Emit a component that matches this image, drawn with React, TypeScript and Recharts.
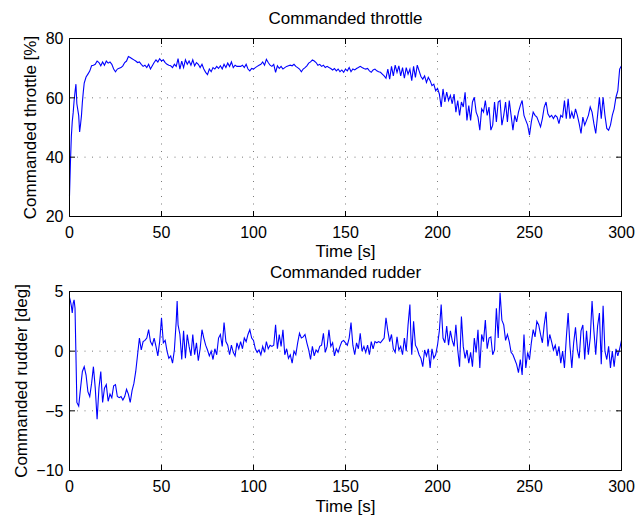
import React from "react";
import { LineChart, Line, XAxis, YAxis, CartesianGrid } from "recharts";

// Commanded throttle [%] vs time [s]
const throttleSamples: [number, number][] = [
  [0, 27], [0.5, 38], [1, 47], [1.5, 52], [2, 55], [2.5, 59], [3, 62], [3.5, 64.6], [4, 58], [4.5, 56],
  [5, 54], [5.5, 48.5], [6, 51], [6.5, 54], [7, 58.6], [7.5, 62], [8, 65], [9, 67], [10, 68], [11, 69],
  [12, 70.8], [13, 71], [14, 71.3], [15, 72.4], [16, 71.9], [17, 70.8], [18, 72.1], [19, 71], [20, 72.4],
  [21, 71.7], [22, 72.1], [23, 71.3], [24, 69.7], [25, 68.8], [26, 69.7], [27, 70], [28, 70.2], [29, 70.8],
  [30, 71.9], [31, 72.4], [32, 73.9], [33, 73.6], [34, 73.2], [35, 72.8], [36, 72.4], [37, 71.9], [38, 72.1],
  [39, 71.3], [40, 70.6], [41, 71], [42, 70.2], [43, 71.3], [44, 69.7], [45, 70.8], [46, 71.9], [47, 72.8],
  [48, 72.1], [49, 73.2], [50, 72.4], [51, 72.8], [52, 71.9], [53, 71.3], [54, 71], [55, 70.8], [56, 70.2],
  [57, 71.3], [58, 70.6], [59, 73.2], [60, 69.7], [61, 72.4], [62, 70.2], [63, 72.8], [64, 71.3], [65, 72.4],
  [66, 71], [67, 72.8], [68, 70.8], [69, 71.9], [70, 71.3], [71, 70.2], [72, 71.3], [73, 69.7], [74, 68.6],
  [75, 67.8], [76, 69.7], [77, 68.8], [78, 70.2], [79, 69.7], [80, 70.6], [81, 69.9], [82, 70.8], [83, 69.7],
  [84, 71.3], [85, 70.2], [86, 71.7], [87, 70.6], [88, 72.1], [89, 70.2], [90, 71], [91, 70.6], [92, 70.6],
  [93, 70.6], [94, 71], [95, 70.2], [96, 71.3], [97, 69.7], [98, 69.1], [99, 69.9], [100, 69.7], [101, 70.2],
  [102, 70.6], [103, 71], [104, 71.3], [105, 72.1], [106, 71], [107, 73], [108, 71.9], [109, 71], [110, 70.6],
  [111, 71.3], [112, 68.6], [113, 70.8], [114, 69.9], [115, 70.6], [116, 69.7], [117, 70.2], [118, 70.6],
  [119, 70.8], [120, 71], [121, 70.8], [122, 71.3], [123, 70.6], [124, 70.2], [125, 69.7], [126, 68.8],
  [127, 69.7], [128, 70.2], [129, 70.8], [130, 71.7], [131, 72.1], [132, 72.8], [133, 72.4], [134, 71.9],
  [135, 71], [136, 71.3], [137, 70.6], [138, 71], [139, 70.2], [140, 70.6], [141, 70.2], [142, 69.9],
  [143, 69.4], [144, 69.9], [145, 69.1], [146, 69.7], [147, 68.8], [148, 69.4], [149, 68.6], [150, 69.7],
  [151, 69.1], [152, 70.2], [153, 68.8], [154, 69.7], [155, 69.4], [156, 69.9], [157, 70.2], [158, 70.6],
  [159, 70.2], [160, 69.9], [161, 69.7], [162, 69.9], [163, 69.1], [164, 68.6], [165, 69.4], [166, 69.7],
  [167, 69.1], [168, 68.8], [169, 68.6], [170, 68], [171, 67.4], [172, 66.6], [173, 69.7], [174, 66.3],
  [175, 70.6], [176, 67.4], [177, 71], [178, 68.6], [179, 70.8], [180, 67.4], [181, 70.2], [182, 66.6],
  [183, 70.2], [184, 68], [185, 69.7], [186, 65.8], [187, 70.6], [188, 66.9], [189, 71], [190, 69.1],
  [191, 67.2], [192, 66.3], [193, 67.4], [194, 65.2], [195, 66.9], [196, 65.8], [197, 64.1], [198, 64.6],
  [199, 62.4], [200, 63.2], [201, 61.3], [202, 56.9], [203, 63], [204, 58.6], [205, 61.9], [206, 59.1],
  [207, 60.8], [208, 58], [209, 61.3], [210, 55.2], [211, 59.1], [212, 54.1], [213, 58.6], [214, 56.9],
  [215, 61.9], [216, 52.4], [217, 57.4], [218, 52.4], [219, 58.6], [220, 60.2], [221, 55.2], [222, 53.5],
  [223, 49.1], [224, 56.3], [225, 55.2], [226, 59.1], [227, 54.1], [228, 56.9], [229, 49.1], [230, 50.8],
  [231, 58.6], [232, 51.9], [233, 58.6], [234, 59.1], [235, 50.8], [236, 54.1], [237, 58.6], [238, 51.9],
  [239, 59.1], [240, 54.1], [241, 49.1], [242, 54.1], [243, 51.9], [244, 55.2], [245, 57.4], [246, 59.1],
  [247, 54.1], [248, 52.4], [249, 50.8], [250, 47.4], [251, 51.9], [252, 55.2], [253, 54.1], [254, 53.5],
  [255, 51.9], [256, 50.2], [257, 53], [258, 56.9], [259, 58.6], [260, 54.6], [261, 53.5], [262, 54.1],
  [263, 53], [264, 54.1], [265, 53.5], [266, 51.3], [267, 54.1], [268, 53.5], [269, 59.1], [270, 53],
  [271, 59.7], [272, 53], [273, 55.2], [274, 53], [275, 56.3], [276, 54.1], [277, 51.3], [278, 48],
  [279, 53.5], [280, 50.8], [281, 52.4], [282, 54.1], [283, 56.9], [284, 55.2], [285, 51.3], [286, 48],
  [287, 54.1], [288, 60.2], [289, 53], [290, 60.2], [291, 54.1], [292, 49.7], [293, 49.1], [294, 50.8],
  [295, 54.1], [296, 56.3], [297, 60.2], [298, 62.4], [299, 69.7], [300, 70.8],
];

// Commanded rudder [deg] vs time [s]
const rudderSamples: [number, number][] = [
  [0, 4.5], [0.5, 4.2], [1, 3.8], [1.5, 3.2], [2, 4.0], [2.5, 4.3], [3, 3.6], [3.5, -0.3], [4, -4.3],
  [5, -4.6], [6, -3.1], [7, -1.7], [8, -1.3], [9, -2.0], [10, -3.4], [11, -3.8], [12, -2.7], [13, -1.3],
  [14, -3.1], [15, -5.7], [16, -3.1], [17, -1.7], [18, -4.3], [19, -3.1], [20, -2.8], [21, -4.2], [22, -3.6],
  [23, -3.9], [24, -2.9], [25, -2.8], [26, -3.8], [27, -3.9], [28, -3.8], [29, -4.1], [30, -3.8], [31, -3.2],
  [32, -3.6], [33, -4.3], [34, -3.3], [35, -2.7], [36, -1.7], [37, -0.3], [38, 1.1], [39, 0.1], [40, 0.8],
  [41, 0.9], [42, 1.1], [43, 1.8], [44, 0.8], [45, 0.5], [46, 1.1], [47, 0.4], [48, -0.4], [49, 0.8],
  [50, 2.8], [51, 0.7], [52, 0.9], [53, 0], [54, -0.6], [55, -0.4], [56, -1.0], [57, 0.1], [58, 2.5],
  [58.5, 4.2], [59, 2.2], [60, 1.4], [61, -0.7], [62, 1.7], [63, -0.6], [64, 1.4], [65, 0.4], [66, -0.4],
  [67, 1.4], [68, -0.3], [69, 0.7], [70, -0.8], [71, 0.2], [72, 1.8], [73, 1.1], [74, 0.5], [75, 0.1],
  [76, -0.4], [77, 0], [78, -0.7], [79, 0.2], [80, -0.3], [81, 1.1], [82, 1.4], [83, 0.4], [84, 2.4],
  [85, 0.8], [86, 0.5], [87, -0.3], [88, 0.5], [89, -0.1], [90, -0.4], [91, 0.7], [92, 0.2], [93, 0.8],
  [94, 0.2], [95, 1.1], [96, 0.8], [97, 1.4], [98, 1.8], [99, 1.1], [100, 0.9], [101, 0.2], [102, -0.1],
  [103, 0.1], [104, -0.3], [105, 0.4], [106, -0.1], [107, 0.8], [108, 0.2], [109, 0.5], [110, 0.4],
  [111, 0.5], [112, 2.2], [113, 0.2], [114, 1.4], [115, 0.4], [116, 1.8], [117, -0.3], [118, 0.2],
  [119, -0.6], [120, -0.3], [121, -1.0], [122, 0], [123, -0.3], [124, 0.7], [125, 1.5], [126, 1.1],
  [127, 1.2], [128, 1.4], [129, 0.7], [130, 0.1], [131, -0.7], [132, 0.4], [133, -0.4], [134, 0.1],
  [135, -0.1], [136, 0.4], [137, 0.5], [138, 1.5], [139, -0.1], [140, 0.4], [141, 1.8], [142, 0.4],
  [143, 0.7], [144, -0.4], [145, 0.2], [146, -0.1], [147, 0.4], [148, 0.8], [149, 0.9], [150, 0.7],
  [151, 0.5], [152, 1.1], [153, 2.4], [154, 0.5], [155, -0.3], [156, 0.7], [157, 0.2], [158, 1.5],
  [159, 0], [160, 0.4], [161, -0.1], [162, 0.5], [163, -0.3], [164, 0.8], [165, 0.2], [166, 0.8],
  [167, 0.7], [168, 0.8], [169, 0.7], [170, 0.9], [171, 1.1], [172, 2.8], [173, 1.7], [174, 0.8],
  [175, 1.4], [176, 0.2], [177, -0.1], [178, 1.2], [179, 0.1], [180, 0.4], [181, -0.3], [182, 1.1],
  [183, 0], [184, 2.2], [185, 3.9], [185.5, 1.4], [186, -0.3], [187, 2.5], [188, 0.5], [189, 0.2],
  [190, -0.3], [191, -0.6], [192, -1.3], [193, 0.1], [194, -0.4], [195, 0.2], [196, -1.4], [197, 0.2],
  [198, -0.6], [199, -0.3], [200, 0.5], [201, 1.7], [202, 3.9], [203, 1.1], [204, 0.7], [205, 2.1],
  [206, 0.5], [207, 1.7], [208, 0.9], [209, 0.4], [210, 2.2], [211, 0.1], [212, -1.3], [213, 2.9],
  [214, 0.4], [215, -0.6], [216, 0.1], [217, -1.0], [218, -0.1], [219, -1.3], [220, 1.1], [221, -0.1],
  [222, 1.8], [223, -1.4], [224, 1.4], [225, 0.8], [226, 2.6], [227, 0.2], [228, 1.1], [229, 1.2],
  [230, -0.3], [231, 0.1], [232, 3.6], [233, 1.1], [234, 4.9], [235, 2.6], [236, 2.2], [237, 0.9],
  [238, 1.4], [239, 0.8], [240, -0.1], [241, -0.3], [242, -0.7], [243, -1.1], [244, -1.8], [245, -0.7],
  [246, -2.0], [247, 1.4], [248, -1.4], [249, -0.1], [250, -0.7], [251, 0.7], [252, 1.8], [253, 1.2],
  [254, 2.5], [255, 2.2], [256, 1.4], [257, 0.7], [258, 2.2], [259, 3.3], [260, 0.4], [261, 1.4],
  [262, 0.8], [263, 0.1], [264, 0.5], [265, -0.4], [266, 0.4], [267, -1.0], [268, 0], [269, -1.4],
  [270, 1.1], [271, 3.2], [272, 0.4], [273, -1.4], [274, 0.7], [275, 2.0], [276, 0.1], [277, -0.6],
  [278, 1.7], [279, 2.2], [280, -0.7], [281, 1.7], [282, -0.3], [283, 1.1], [284, 4.2], [285, 1.7],
  [286, -0.3], [287, 2.1], [288, 3.2], [289, -1.1], [290, 3.8], [291, 0], [292, -0.7], [293, 0.4],
  [294, -1.4], [295, 0], [296, -1.3], [297, 0.2], [298, -0.4], [299, 0.2], [300, 0.9],
];

const timeTicks = [0, 50, 100, 150, 200, 250, 300];
const throttleTicks = [20, 40, 60, 80];
const rudderTicks = [-10, -5, 0, 5];
const timeDomain: [number, number] = [0, 300];
const throttleDomain: [number, number] = [20, 80];
const rudderDomain: [number, number] = [-10, 5];

const titles = ["Commanded throttle", "Commanded rudder"];
const yLabels = ["Commanded throttle [%]", "Commanded rudder [deg]"];
const xLabel = "Time [s]";

const FONT = '"Liberation Sans", Arial, Helvetica, sans-serif';
const TICK_LEN = 5.5;
const CHART_W = 639;
const CHART_H = 260;
const Y_AXIS_W = 69.5;
const RIGHT_M = 17.5;
const PLOT_W = CHART_W - Y_AXIS_W - RIGHT_M;
const AXIS_LINE = { stroke: "#000", strokeWidth: 1 };

const fmt = (v: number) => (v < 0 ? "\u2212" + Math.abs(v) : String(v));

// Bottom-axis tick: label, inward tick at bottom and top, and the top edge of the box
const makeBottomTick = (plotH: number) => (props: any) => {
  const { x, y, payload, index } = props;
  const top = y - plotH;
  return (
    <g>
      {index === 0 ? <line x1={x} y1={top} x2={x + PLOT_W} y2={top} stroke="#000" strokeWidth={1} /> : null}
      <line x1={x} y1={y} x2={x} y2={y - TICK_LEN} stroke="#000" strokeWidth={1} />
      <line x1={x} y1={top} x2={x} y2={top + TICK_LEN} stroke="#000" strokeWidth={1} />
      <text x={x} y={y + 21.5} textAnchor="middle" fontSize={16} fontFamily={FONT} fill="#000">
        {fmt(payload.value)}
      </text>
    </g>
  );
};

// Left-axis tick: label, inward tick at left and right, and the right edge of the box
const makeLeftTick = (plotH: number) => (props: any) => {
  const { x, y, payload, index } = props;
  const right = x + PLOT_W;
  return (
    <g>
      {index === 0 ? <line x1={right} y1={y} x2={right} y2={y - plotH} stroke="#000" strokeWidth={1} /> : null}
      <line x1={x} y1={y} x2={x + TICK_LEN} y2={y} stroke="#000" strokeWidth={1} />
      <line x1={right} y1={y} x2={right - TICK_LEN} y2={y} stroke="#000" strokeWidth={1} />
      <text x={x - 6} y={y + 5.8} textAnchor="end" fontSize={16} fontFamily={FONT} fill="#000">
        {fmt(payload.value)}
      </text>
    </g>
  );
};

const makeYLabel = (text: string, baseX: number) => (props: any) => {
  const vb = props.viewBox || {};
  const cx = (vb.x || 0) + baseX;
  const cy = (vb.y || 0) + (vb.height || 0) / 2;
  return (
    <text x={cx} y={cy} transform={`rotate(-90 ${cx} ${cy})`} textAnchor="middle" fontSize={17} fontFamily={FONT} fill="#000">
      {text}
    </text>
  );
};

const THROTTLE_TOP = 38.5;
const THROTTLE_XH = 43.5;
const RUDDER_TOP = 35.5;
const RUDDER_XH = 45.5;
const throttlePlotH = CHART_H - THROTTLE_TOP - THROTTLE_XH;
const rudderPlotH = CHART_H - RUDDER_TOP - RUDDER_XH;

const throttleBottomTick = makeBottomTick(throttlePlotH);
const throttleLeftTick = makeLeftTick(throttlePlotH);
const rudderBottomTick = makeBottomTick(rudderPlotH);
const rudderLeftTick = makeLeftTick(rudderPlotH);

const throttleYLabel = { content: makeYLabel(yLabels[0], 35.5) };
const rudderYLabel = { content: makeYLabel(yLabels[1], 27) };
const throttleXLabel = { value: xLabel, position: "insideBottom", offset: 3, fontSize: 17, fontFamily: FONT, fill: "#000" };
const rudderXLabel = { value: xLabel, position: "insideBottom", offset: 4.5, fontSize: 17, fontFamily: FONT, fill: "#000" };

const throttleData = throttleSamples.map(([t, v]) => ({ t, v }));
const rudderData = rudderSamples.map(([t, v]) => ({ t, v }));

const Title = ({ text, baseline }: { text: string; baseline: number }) => (
  <div
    style={{
      position: "absolute",
      left: Y_AXIS_W,
      width: PLOT_W,
      top: baseline - 16,
      textAlign: "center",
      fontFamily: FONT,
      fontSize: 17,
      lineHeight: "20px",
      color: "#000",
      whiteSpace: "nowrap",
    }}
  >
    {text}
  </div>
);

const renderPanel = (
  data: { t: number; v: number }[],
  domain: [number, number],
  yTicks: number[],
  marginTop: number,
  xAxisHeight: number,
  bottomTick: any,
  leftTick: any,
  xLabelObj: any,
  yLabelObj: any
) => (
  <LineChart width={CHART_W} height={CHART_H} data={data} margin={{ top: marginTop, right: RIGHT_M, bottom: 0, left: 0 }}>
    <CartesianGrid stroke="#7a7a7a" strokeDasharray="1 6.5" />
    <Line dataKey="v" type="linear" stroke="#0000ff" strokeWidth={1.1} dot={false} isAnimationActive={false} />
    <XAxis
      dataKey="t"
      type="number"
      domain={timeDomain}
      ticks={timeTicks}
      interval={0}
      height={xAxisHeight}
      tickLine={false}
      tickSize={0}
      tickMargin={0}
      tick={bottomTick}
      axisLine={AXIS_LINE}
      label={xLabelObj}
    />
    <YAxis
      type="number"
      domain={domain}
      ticks={yTicks}
      interval={0}
      width={Y_AXIS_W}
      tickLine={false}
      tickSize={0}
      tickMargin={0}
      tick={leftTick}
      axisLine={AXIS_LINE}
      label={yLabelObj}
    />
  </LineChart>
);

export default function App() {
  return (
    <div style={{ position: "absolute", left: 0, top: 0, width: CHART_W, height: 516, background: "#fff" }}>
      <div style={{ position: "absolute", left: 0, top: 0, width: CHART_W, height: CHART_H }}>
        <Title text={titles[0]} baseline={25} />
        {renderPanel(throttleData, throttleDomain, throttleTicks, THROTTLE_TOP, THROTTLE_XH, throttleBottomTick, throttleLeftTick, throttleXLabel, throttleYLabel)}
      </div>
      <div style={{ position: "absolute", left: 0, top: 256, width: CHART_W, height: CHART_H }}>
        <Title text={titles[1]} baseline={23} />
        {renderPanel(rudderData, rudderDomain, rudderTicks, RUDDER_TOP, RUDDER_XH, rudderBottomTick, rudderLeftTick, rudderXLabel, rudderYLabel)}
      </div>
    </div>
  );
}
